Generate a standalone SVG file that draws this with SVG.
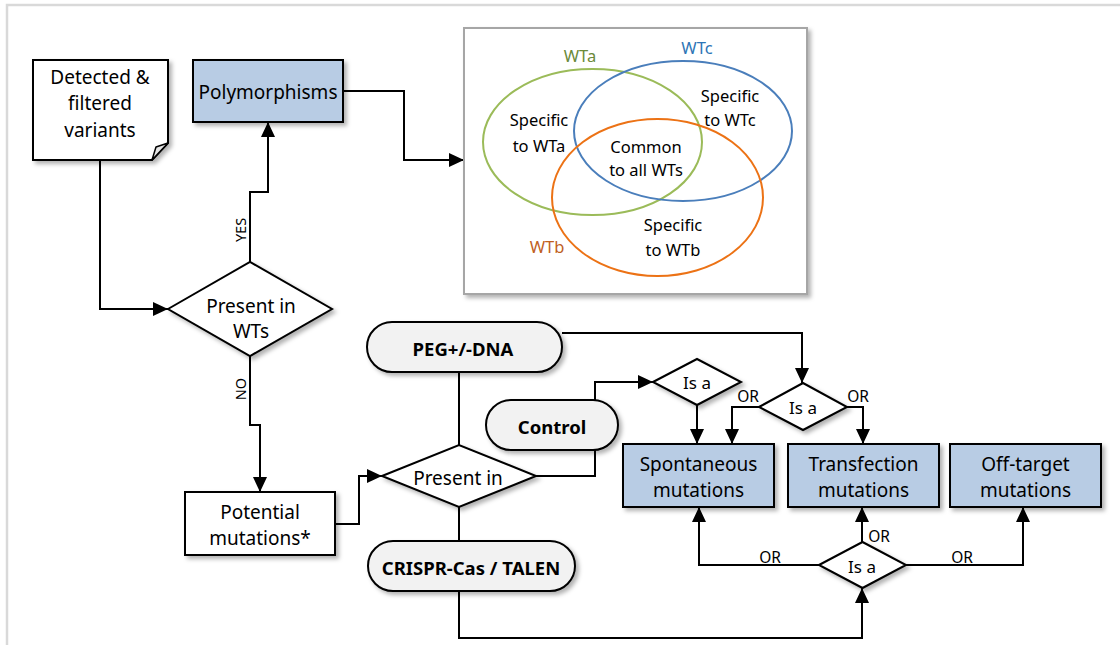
<svg xmlns="http://www.w3.org/2000/svg" width="1120" height="645" viewBox="0 0 1120 645">
<defs>
<filter id="sh" x="-10%" y="-10%" width="130%" height="140%">
<feDropShadow dx="3" dy="3" stdDeviation="2" flood-color="#000" flood-opacity="0.3"/>
</filter>
<marker id="ar" markerUnits="userSpaceOnUse" markerWidth="15" markerHeight="14" refX="15" refY="7" orient="auto">
<path d="M0,0 L15,7 L0,14 z" fill="#000"/>
</marker>
</defs>
<style>
text{font-family:"Noto Sans","Open Sans","Liberation Sans",sans-serif;fill:#000;text-anchor:middle;dominant-baseline:central}
.t{font-size:19px}
.b{font-size:18.5px;font-weight:bold}
.v{font-size:16.5px}
.s{font-size:17px}
.o{font-size:15.5px}
.y{font-size:14.5px}
.box{fill:#fff;stroke:#000;stroke-width:2;filter:url(#sh)}
.blue{fill:#b8cce4;stroke:#000;stroke-width:2;filter:url(#sh)}
.pill{fill:#f2f2f2;stroke:#000;stroke-width:2;filter:url(#sh)}
.c{fill:none;stroke:#000;stroke-width:2}
.ca{fill:none;stroke:#000;stroke-width:2;marker-end:url(#ar)}
</style>
<rect width="1120" height="645" fill="#fff"/>
<path d="M7,645 V5 H1120" fill="none" stroke="#d9d9d9" stroke-width="2.5"/>

<g id="connectors">
<path class="ca" d="M100,160 V309 H168"/>
<path class="ca" d="M250,262 V192 H268 V122"/>
<path class="ca" d="M343,91 H404 V160 H464"/>
<path class="ca" d="M250,356 V425 H260 V492"/>
<path class="ca" d="M335,524 H359 V476 H382"/>
<path class="c" d="M459,372 V445"/>
<path class="c" d="M459,507 V541"/>
<path class="ca" d="M536,476 H595 V382 H653"/>
<path class="ca" d="M562,333 H802 V383"/>
<path class="ca" d="M697,405 V444"/>
<path class="ca" d="M759,407 H732 V444"/>
<path class="ca" d="M847,407 H863 V444"/>
<path class="ca" d="M459,591 V638 H862 V588"/>
<path class="ca" d="M862,542 V507"/>
<path class="ca" d="M819,565 H699 V507"/>
<path class="ca" d="M906,565 H1023 V507"/>
<text class="y" transform="translate(240,230) rotate(-90)">YES</text>
<text class="y" transform="translate(240,389) rotate(-90)">NO</text>
<text class="o" x="748" y="396">OR</text>
<text class="o" x="858" y="396">OR</text>
<text class="o" x="879" y="536">OR</text>
<text class="o" x="770" y="557">OR</text>
<text class="o" x="962" y="557">OR</text>
</g>

<g id="detected">
<path class="box" d="M33,60 H168 V143 L152,160 H33 Z"/>
<path d="M152,160 L156,147 L168,143 Z" fill="#e6e6e6" stroke="#000" stroke-width="1.5" stroke-linejoin="round"/>
<text class="t" x="100" y="77">Detected &amp;</text>
<text class="t" x="100" y="103">filtered</text>
<text class="t" x="100" y="130">variants</text>
</g>

<g id="polymorphisms">
<rect class="blue" x="193" y="60" width="150" height="62"/>
<text class="t" x="268" y="92">Polymorphisms</text>
</g>

<g id="venn">
<rect x="464" y="28" width="343" height="266" fill="#fff" stroke="#a6a6a6" stroke-width="2" filter="url(#sh)"/>
<ellipse cx="592.5" cy="142" rx="109.5" ry="73" fill="none" stroke="#9bbb59" stroke-width="2"/>
<ellipse cx="683" cy="131" rx="109" ry="70" fill="none" stroke="#4a7ebb" stroke-width="2"/>
<ellipse cx="657.5" cy="197.5" rx="105.5" ry="78.5" fill="none" stroke="#ec7215" stroke-width="2"/>
<text class="v" x="580" y="55" style="fill:#6b8a3a">WTa</text>
<text class="v" x="697" y="47" style="fill:#2e75b6">WTc</text>
<text class="v" x="547" y="246" style="fill:#c0601e">WTb</text>
<text class="v" x="539" y="119">Specific</text>
<text class="v" x="539" y="145">to WTa</text>
<text class="v" x="730" y="95">Specific</text>
<text class="v" x="730" y="119">to WTc</text>
<text class="v" x="646" y="146">Common</text>
<text class="v" x="646" y="169">to all WTs</text>
<text class="v" x="673" y="224">Specific</text>
<text class="v" x="673" y="249">to WTb</text>
</g>

<g id="present-wts">
<path class="box" d="M168,309 L250,262 L332,309 L250,356 Z"/>
<text class="t" x="251" y="306">Present in</text>
<text class="t" x="251" y="331">WTs</text>
</g>

<g id="potential">
<rect class="box" x="185" y="492" width="150" height="63"/>
<text class="t" x="260" y="512">Potential</text>
<text class="t" x="260" y="538">mutations*</text>
</g>

<g id="peg">
<rect class="pill" x="367" y="322" width="195" height="50" rx="25"/>
<text class="b" x="463" y="348">PEG+/-DNA</text>
</g>

<g id="control">
<rect class="pill" x="486" y="400" width="132" height="50" rx="25"/>
<text class="b" x="552" y="426">Control</text>
</g>

<g id="present-in">
<path class="box" d="M382,476 L459,445 L536,476 L459,507 Z"/>
<text class="t" x="458" y="478">Present in</text>
</g>

<g id="crispr">
<rect class="pill" x="368" y="541" width="207" height="50" rx="25"/>
<text class="b" x="471" y="567">CRISPR-Cas / TALEN</text>
</g>

<g id="isa1">
<path class="box" d="M653,382 L697,359 L741,382 L697,405 Z"/>
<text class="s" x="697" y="382">Is a</text>
</g>

<g id="isa2">
<path class="box" d="M759,407 L803,383 L847,407 L803,430 Z"/>
<text class="s" x="803" y="407">Is a</text>
</g>

<g id="isa3">
<path class="box" d="M819,565 L862.5,542 L906,565 L862.5,588 Z"/>
<text class="s" x="862" y="566">Is a</text>
</g>

<g id="spontaneous">
<rect class="blue" x="623" y="444" width="151" height="63"/>
<text class="t" x="698.5" y="464">Spontaneous</text>
<text class="t" x="698.5" y="490">mutations</text>
</g>

<g id="transfection">
<rect class="blue" x="788" y="444" width="151" height="63"/>
<text class="t" x="863.5" y="464">Transfection</text>
<text class="t" x="863.5" y="490">mutations</text>
</g>

<g id="offtarget">
<rect class="blue" x="950" y="444" width="151" height="63"/>
<text class="t" x="1025.5" y="464">Off-target</text>
<text class="t" x="1025.5" y="490">mutations</text>
</g>
</svg>
